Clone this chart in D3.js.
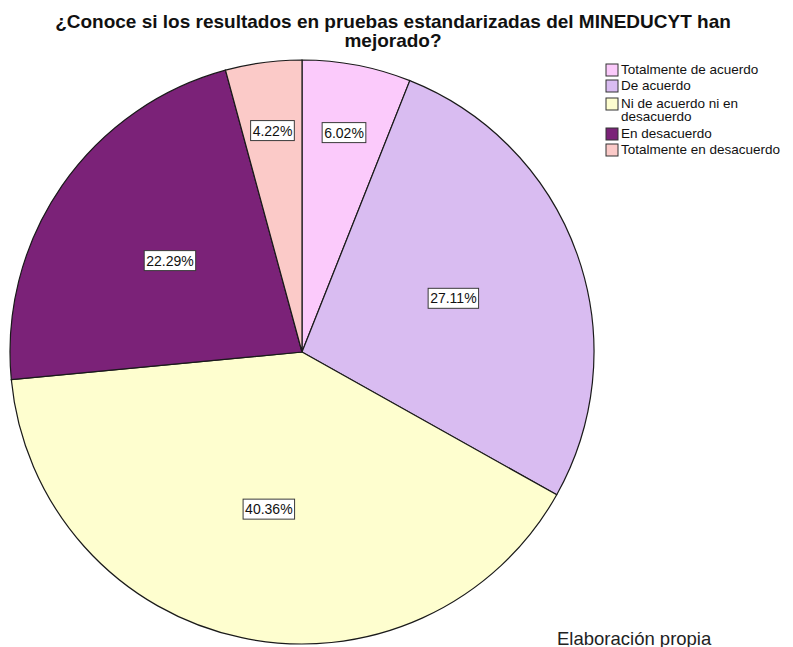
<!doctype html>
<html>
<meta charset="utf-8">
<style>
body { margin: 0; padding: 0; background: #fff; font-family: 'Liberation Sans', Arial, sans-serif; }
</style>
<body>
<svg width="793" height="647"></svg>
<script src="https://cdn.jsdelivr.net/npm/d3@7"></script>
<script>

// data
var categories = ["Totalmente de acuerdo", "De acuerdo", "Ni de acuerdo ni en desacuerdo", "En desacuerdo", "Totalmente en desacuerdo"];
var legendLines = [["Totalmente de acuerdo"], ["De acuerdo"], ["Ni de acuerdo ni en", "desacuerdo"], ["En desacuerdo"], ["Totalmente en desacuerdo"]];
var percents = [6.02, 27.11, 40.36, 22.29, 4.22];
var colors = ["#fbcafb", "#d9bcf1", "#fefecf", "#7b2278", "#fbcac8"];

var svg = d3.select("svg");

// title
var title = svg.append("text")
    .attr("text-anchor", "middle")
    .style("font-size", "19px")
    .style("font-weight", "bold")
    .attr("fill", "#111");
title.append("tspan").attr("x", 393).attr("y", 28).text("¿Conoce si los resultados en pruebas estandarizadas del MINEDUCYT han");
title.append("tspan").attr("x", 393).attr("y", 47).text("mejorado?");

var cx = 302, cy = 352, r = 292;
var g = svg.append("g").attr("transform", "translate(" + cx + "," + cy + ")");

var pie = d3.pie().sort(null).value(function(d) { return d; });
var arcs = pie(percents);
var arc = d3.arc().innerRadius(0).outerRadius(r);

g.selectAll("path.slice")
  .data(arcs)
  .enter().append("path")
    .attr("class", "slice")
    .attr("d", arc)
    .attr("fill", function(d, i) { return colors[i]; })
    .attr("stroke", "#1a1a1a")
    .attr("stroke-width", 1.2);

// labels: small slices sit further out
var labels = g.selectAll("g.lbl")
  .data(arcs)
  .enter().append("g")
    .attr("class", "lbl")
    .attr("transform", function(d) {
      var a = (d.startAngle + d.endAngle) / 2;
      var rr = d.data < 10 ? r * 0.765 : r * 0.55;
      return "translate(" + (Math.sin(a) * rr) + "," + (-Math.cos(a) * rr) + ")";
    });

labels.append("rect")
    .attr("x", -20).attr("y", -10)
    .attr("width", 40).attr("height", 20)
    .attr("fill", "#fff")
    .attr("stroke", "#3a3a3a")
    .attr("stroke-width", 1);

labels.append("text")
    .attr("text-anchor", "middle")
    .attr("dy", "0.36em")
    .style("font-size", "14px")
    .attr("fill", "#111")
    .text(function(d) { return d3.format(".2f")(d.data) + "%"; });

labels.each(function() {
  var t = d3.select(this).select("text").node().getBBox();
  d3.select(this).select("rect")
    .attr("x", t.x - 2).attr("width", t.width + 4);
});

// legend
var legendY = [70, 86, 104, 134, 150];
var legend = svg.append("g").attr("transform", "translate(606,0)");
categories.forEach(function(c, i) {
  var item = legend.append("g").attr("transform", "translate(0," + legendY[i] + ")");
  item.append("rect")
    .attr("x", 0).attr("y", -6)
    .attr("width", 12).attr("height", 12)
    .attr("fill", colors[i])
    .attr("stroke", "#333")
    .attr("stroke-width", 1);
  var t = item.append("text")
    .attr("x", 15)
    .style("font-size", "13.5px")
    .attr("fill", "#111");
  legendLines[i].forEach(function(line, j) {
    t.append("tspan").attr("x", 15).attr("y", 4 + j * 13).text(line);
  });
});

svg.append("text")
    .attr("x", 557).attr("y", 645)
    .style("font-size", "18.5px")
    .attr("fill", "#222")
    .text("Elaboración propia");

</script>
</body>
</html>
